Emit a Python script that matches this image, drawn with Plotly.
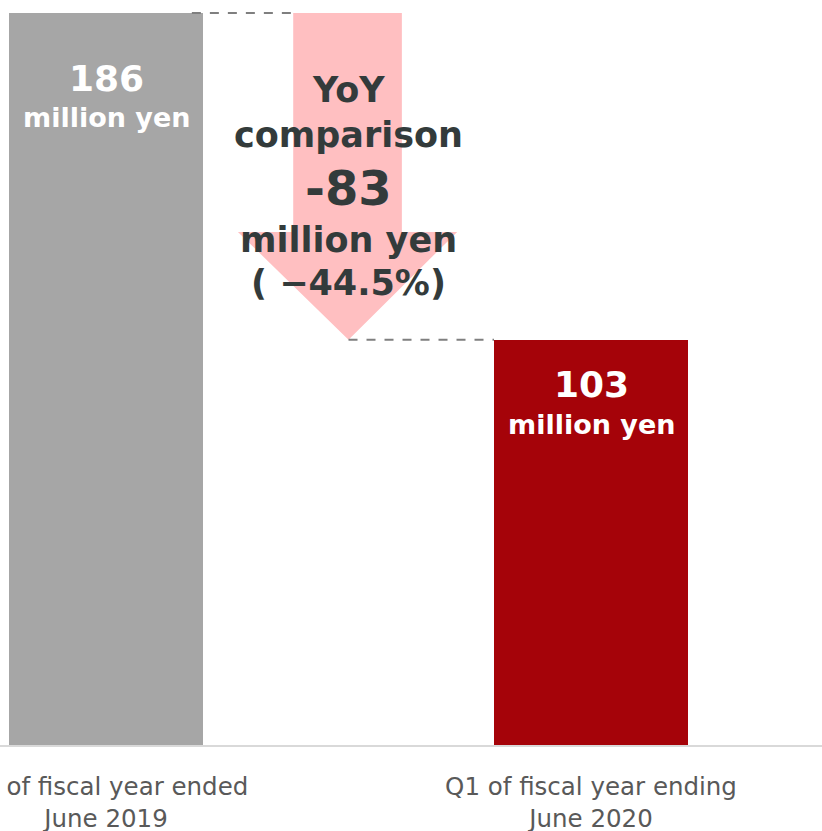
import plotly.graph_objects as go

# Operating figures (million yen)
categories = ["Q1 of fiscal year ended<br>June 2019", "Q1 of fiscal year ending<br>June 2020"]
values = [186, 103]
bar_colors = ["#a6a6a6", "#a50309"]
unit = "million yen"

# Year-on-year change as reported
change = -83
change_pct = -44.5

x_pos = [0, 1]
bar_w = 0.4

fig = go.Figure()
fig.add_trace(go.Bar(
    x=x_pos, y=values, width=bar_w,
    marker=dict(color=bar_colors, line=dict(width=0)),
    hoverinfo="skip",
))

# Value labels inside bar tops (pixel offsets below each bar top)
label_shift = [(-65, -104), (-45, -85)]
for xv, v, (s1, s2) in zip(x_pos, values, label_shift):
    fig.add_annotation(x=xv, y=v, yshift=s1, text=f"<b>{v}</b>", showarrow=False,
                       font=dict(family="DejaVu Sans", size=36, color="white"))
    fig.add_annotation(x=xv, y=v, yshift=s2, text=f"<b>{unit}</b>", showarrow=False,
                       font=dict(family="DejaVu Sans", size=27, color="white"))

# Downward arrow between the bars
shaft_l, shaft_r = 0.386, 0.610
head_l, head_r = 0.272, 0.724
tip_x = 0.5
head_y = 130.4
top = values[0]
bot = values[1]
path = (f"M {shaft_l},{top} L {shaft_r},{top} L {shaft_r},{head_y} L {head_r},{head_y} "
        f"L {tip_x},{bot} L {head_l},{head_y} L {shaft_l},{head_y} Z")
fig.add_shape(type="path", path=path, xref="x", yref="y",
              fillcolor="#ffbfc1", line=dict(width=0), layer="below")

# Dashed guide lines at bar levels
fig.add_shape(type="line", x0=0.177, x1=shaft_l, y0=values[0], y1=values[0],
              xref="x", yref="y", line=dict(color="#7f7f7f", width=2, dash="dash"))
fig.add_shape(type="line", x0=tip_x, x1=1 - bar_w / 2, y0=values[1], y1=values[1],
              xref="x", yref="y", line=dict(color="#7f7f7f", width=2, dash="dash"))

# Change annotation text
dark = "#333b3b"
lines = [
    ("YoY", 35, 166.4),
    ("comparison", 35, 155.0),
    (f"{change:d}", 48, 141.5),
    (unit, 35, 128.3),
    (f"( −{abs(change_pct):.1f}%)", 35, 117.4),
]
for txt, sz, yv in lines:
    fig.add_annotation(x=tip_x, y=yv, text=f"<b>{txt}</b>", showarrow=False,
                       font=dict(family="DejaVu Sans", size=sz, color=dark))

fig.update_layout(
    width=822, height=831,
    margin=dict(l=0, r=0, t=0, b=86),
    paper_bgcolor="white", plot_bgcolor="white",
    showlegend=False,
    bargap=0,
    xaxis=dict(
        range=[-0.2186, 1.4763],
        tickvals=x_pos, ticktext=categories,
        showgrid=False, zeroline=False,
        showline=True, linecolor="#d9d9d9", linewidth=2,
        ticks="", ticklabelstandoff=19, ticklabeloverflow="allow",
        automargin=False,
        tickfont=dict(family="DejaVu Sans", size=24.5, color="#595959"),
        fixedrange=True,
    ),
    yaxis=dict(
        range=[0, 189.33], visible=False, fixedrange=True, automargin=False,
    ),
)

fig.write_html("out.html")
